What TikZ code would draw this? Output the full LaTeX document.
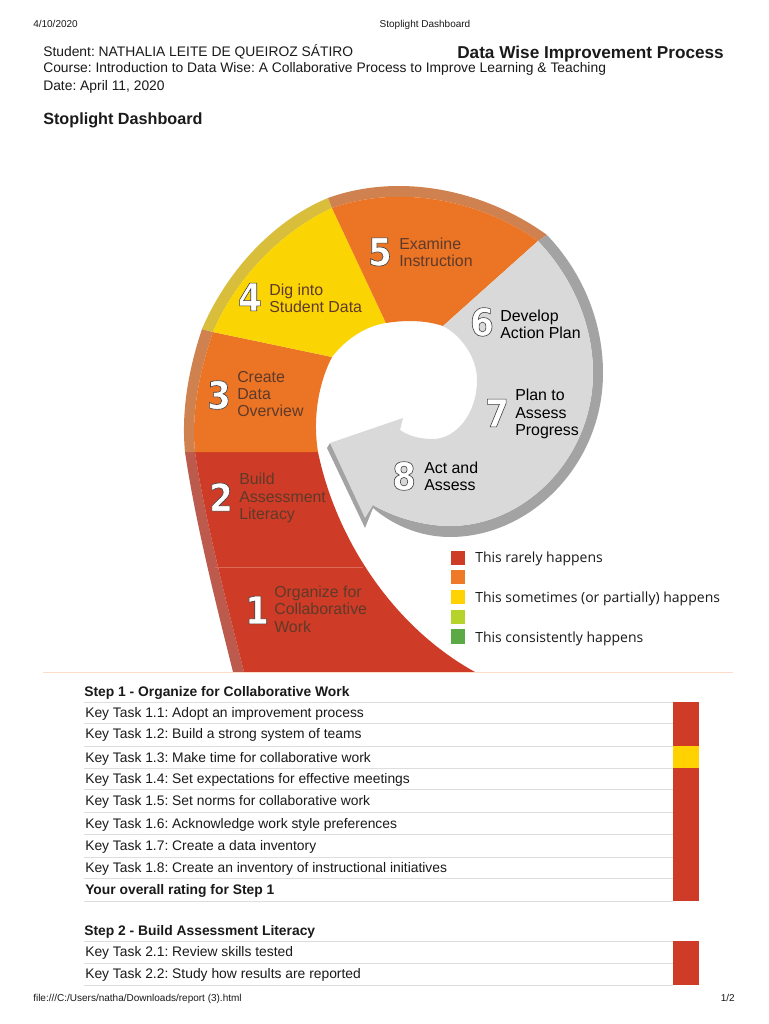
\documentclass[tikz,border=0pt]{standalone}
\usepackage{fontspec}
\setmainfont{Liberation Sans}
\newfontfamily\legendfont{Open Sans}
\newfontfamily\numfont{DejaVu Sans Condensed Bold}
\definecolor{segred}{HTML}{CE3B26}
\definecolor{segorange}{HTML}{EB7425}
\definecolor{segyellow}{HTML}{FBD404}
\definecolor{seggray}{HTML}{D9D9D9}
\definecolor{bandred}{HTML}{BC5A4E}
\definecolor{bandorange}{HTML}{CF8250}
\definecolor{bandyellow}{HTML}{D9BE3C}
\definecolor{bandgray}{HTML}{A3A3A3}
\definecolor{seamred}{HTML}{DD6A55}
\definecolor{rule}{HTML}{DEDEDE}
\definecolor{sepline}{HTML}{FFDCC8}
\definecolor{lime}{HTML}{B5D32B}
\definecolor{leggreen}{HTML}{5BAA45}
\definecolor{legorange}{HTML}{EE7A28}
\definecolor{legyellow}{HTML}{FFD200}
\definecolor{inkdark}{HTML}{1A1A1A}
\definecolor{inkseg}{HTML}{5F3A2A}
\newcommand{\px}[1]{\fontsize{\fpeval{#1*0.75}}{\fpeval{#1*0.75*1.09}}\selectfont\frenchspacing}
\newcommand{\outlined}[1]{\special{pdf:code q 2 Tr 0.45 w 0.25 0.25 0.25 RG}#1\special{pdf:code Q}}
\tikzset{
 pagetext/.style={inner sep=0pt,anchor=base west,text=inkdark},
 smalltext/.style={pagetext,font=\px{10}},
 headtext/.style={pagetext,font=\px{13.85}},
 rowtext/.style={pagetext,font=\px{13.85}},
 rowbold/.style={pagetext,font=\px{13.85}\bfseries},
 seglabel/.style={inner sep=0pt,anchor=west,align=left,text=inkseg,font=\px{15.9}},
 graylabel/.style={inner sep=0pt,anchor=west,align=left,text=black,font=\px{15.9}},
 numeral/.style={inner sep=0pt,text=white,font=\numfont\px{38}},
 legendtext/.style={inner sep=0pt,anchor=base west,text=inkdark,font=\legendfont\px{14}},
 rowrule/.style={draw=rule,line width=0.75pt},
}
\begin{document}
\begin{tikzpicture}[x=0.75pt,y=-0.75pt]
\useasboundingbox (0,0) rectangle (768,1024);
\fill[white] (0,0) rectangle (768,1024);
% --- spiral: red
\fill[bandred] (233,672) .. controls (215,600) and (195,520) .. (185,452) -- (195,452) .. controls (205,520) and (226,600) .. (244,672) -- cycle;
\fill[segred] (244,672) .. controls (226,600) and (205,520) .. (195,452) -- (318,452) .. controls (335,535) and (390,625) .. (475,672) -- cycle;
\draw[seamred,line width=0.6pt] (215,567) -- (363,567);
% --- orange 3
\fill[bandorange] (185,452) .. controls (181,410) and (189,368) .. (202,329) -- (213,332) .. controls (200,370) and (191,412) .. (195,452) -- cycle;
\fill[segorange] (195,452) .. controls (191,412) and (200,370) .. (213,332) -- (332,357) .. controls (320,380) and (312,415) .. (318,452) -- cycle;
% --- yellow 4
\fill[bandyellow] (202,329) .. controls (225,275) and (270,222) .. (328,198) -- (332,208) .. controls (280,232) and (235,280) .. (213,332) -- cycle;
\fill[segyellow] (213,332) .. controls (235,280) and (280,232) .. (332,208) -- (386,323) .. controls (365,326) and (345,340) .. (332,357) -- cycle;
% --- orange 5
\fill[bandorange] (328,198) .. controls (400,172) and (485,190) .. (547,235) -- (538,241) .. controls (480,200) and (400,184) .. (332,208) -- cycle;
\fill[segorange] (332,208) .. controls (400,184) and (480,200) .. (538,241) -- (443,326) .. controls (425,320) and (405,320) .. (386,323) -- cycle;
% --- gray 6-8 with arrow
\fill[bandgray] (547,235) .. controls (585,275) and (603,325) .. (603,373) .. controls (603,465) and (530,537) .. (450,537) .. controls (423,537) and (395,527) .. (373,508) -- (365,528) -- (327,448) -- (330,443) -- (373,505) .. controls (395,518) and (425,526) .. (450,526) .. controls (525,526) and (593,458) .. (593,373) .. controls (593,328) and (575,280) .. (538,241) -- cycle;
\fill[seggray] (538,241) .. controls (575,280) and (593,328) .. (593,373) .. controls (593,458) and (525,526) .. (450,526) .. controls (425,526) and (395,518) .. (373,505) -- (365,518) -- (330,443) -- (403,418) -- (400,430) .. controls (410,437) and (422,439) .. (433,439) .. controls (455,439) and (477,415) .. (477,380) .. controls (477,358) and (462,336) .. (443,326) -- cycle;
% --- numerals and labels
\node[numeral] (n1) at (257,610) {\outlined{1}};
\node[seglabel] (l1) at (274,609) {Organize for\\Collaborative\\Work};
\node[numeral] (n2) at (221,497) {\outlined{2}};
\node[seglabel] (l2) at (239,498) {Build\\Assessment\\Literacy};
\node[numeral] (n3) at (219,395) {\outlined{3}};
\node[seglabel] (l3) at (237,394) {Create\\Data\\Overview};
\node[numeral] (n4) at (250,297) {\outlined{4}};
\node[seglabel] (l4) at (269,298) {Dig into\\Student Data};
\node[numeral] (n5) at (380,252) {\outlined{5}};
\node[seglabel] (l5) at (399,252) {Examine\\Instruction};
\node[numeral] (n6) at (482,322) {\outlined{6}};
\node[graylabel] (l6) at (500,324) {Develop\\Action Plan};
\node[numeral] (n7) at (497,413) {\outlined{7}};
\node[graylabel] (l7) at (515,414) {Plan to\\Assess\\Progress};
\node[numeral] (n8) at (404,476) {\outlined{8}};
\node[graylabel] (l8) at (424,476) {Act and\\Assess};
% --- legend
\fill[segred] (451,551) rectangle (465,565);
\fill[legorange] (451,570) rectangle (465,584);
\fill[legyellow] (451,590) rectangle (465,604);
\fill[lime] (451,610) rectangle (465,624);
\fill[leggreen] (451,629) rectangle (465,644);
\node[legendtext] (t1) at (475,562) {This rarely happens};
\node[legendtext] (t2) at (475,602) {This sometimes (or partially) happens};
\node[legendtext] (t3) at (475,642) {This consistently happens};
% --- page header and footer
\node[smalltext] (date) at (33,28) {4/10/2020};
\node[smalltext,anchor=base] (title) at (425,28) {Stoplight Dashboard};
\node[smalltext] (foot) at (33,1001) {file:///C:/Users/natha/Downloads/report (3).html};
\node[smalltext,anchor=base east] (page) at (735,1001) {1/2};
\node[headtext] (student) at (43,57) {Student: NATHALIA LEITE DE QUEIROZ SÁTIRO};
\node[pagetext,font=\px{17.2}\bfseries] (wise) at (457,59) {Data Wise Improvement Process};
\node[headtext] (course) at (43,73) {Course: Introduction to Data Wise: A Collaborative Process to Improve Learning \& Teaching};
\node[headtext] (when) at (43,90) {Date: April 11, 2020};
\node[pagetext,font=\px{16.2}\bfseries] (dash) at (43,124) {Stoplight Dashboard};
\draw[sepline,line width=0.75pt] (43,672.5) -- (733,672.5);
% --- table
\fill[segred] (673,702) rectangle (699,901);
\fill[legyellow] (673,746) rectangle (699,768);
\fill[segred] (673,941) rectangle (699,985);
\foreach \yy in {702,723,746,768,789,812,834,857,878,901,941,963,985}
  \draw[rowrule] (84,\yy) -- (673,\yy);
\node[rowbold] (s1) at (84,696) {Step 1 - Organize for Collaborative Work};
\node[rowtext] (k1) at (85,717) {Key Task 1.1: Adopt an improvement process};
\node[rowtext] (k2) at (85,738) {Key Task 1.2: Build a strong system of teams};
\node[rowtext] (k3) at (85,762) {Key Task 1.3: Make time for collaborative work};
\node[rowtext] (k4) at (85,783) {Key Task 1.4: Set expectations for effective meetings};
\node[rowtext] (k5) at (85,805) {Key Task 1.5: Set norms for collaborative work};
\node[rowtext] (k6) at (85,828) {Key Task 1.6: Acknowledge work style preferences};
\node[rowtext] (k7) at (85,850) {Key Task 1.7: Create a data inventory};
\node[rowtext] (k8) at (85,872) {Key Task 1.8: Create an inventory of instructional initiatives};
\node[rowbold] (r1) at (85,894) {Your overall rating for Step 1};
\node[rowbold] (s2) at (84,935) {Step 2 - Build Assessment Literacy};
\node[rowtext] (k9) at (85,956) {Key Task 2.1: Review skills tested};
\node[rowtext] (k10) at (85,978) {Key Task 2.2: Study how results are reported};
\end{tikzpicture}
\end{document}
